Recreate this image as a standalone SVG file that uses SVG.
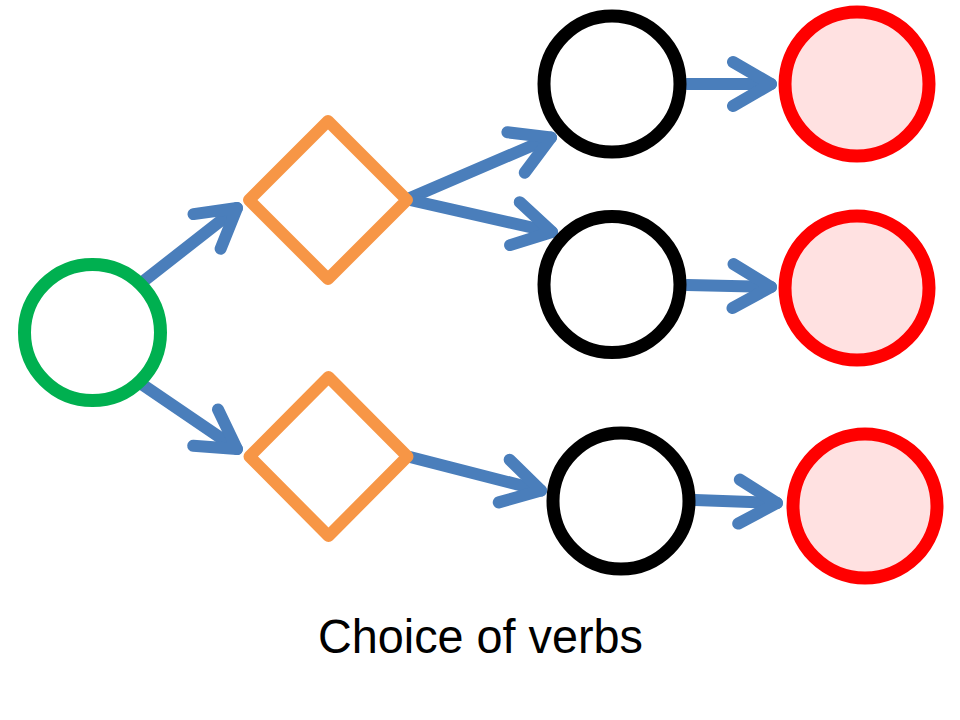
<svg xmlns="http://www.w3.org/2000/svg" width="960" height="720" viewBox="0 0 960 720">
  <defs>
    <style>
      .conn { fill: none; stroke: #4A7EBB; stroke-width: 12; stroke-linecap: round; stroke-linejoin: round; }
      .start { fill: #FFFFFF; stroke: #00B050; stroke-width: 13; }
      .choice { fill: #FFFFFF; stroke: #F79646; stroke-width: 12; stroke-linejoin: round; }
      .verb { fill: #FFFFFF; stroke: #000000; stroke-width: 13; }
      .end { fill: #FFE1E1; stroke: #FF0000; stroke-width: 13; }
      .caption { font-family: "Liberation Sans", Arial, sans-serif; font-size: 48px; fill: #000000; }
    </style>
    <marker id="chev" markerUnits="userSpaceOnUse" viewBox="-50 -30 60 60" markerWidth="60" markerHeight="60" refX="0" refY="0" orient="auto">
      <path d="M-38,-22 L0,0 L-38,22" fill="none" stroke="#4A7EBB" stroke-width="12" stroke-linecap="round" stroke-linejoin="round"/>
    </marker>
  </defs>
  <rect width="960" height="720" fill="#FFFFFF"/>

  <g id="connectors">
    <line class="conn" x1="145" y1="280" x2="237" y2="208" marker-end="url(#chev)"/>
    <line class="conn" x1="143" y1="385" x2="237" y2="449" marker-end="url(#chev)"/>
    <line class="conn" x1="410" y1="198" x2="551" y2="137.5" marker-end="url(#chev)"/>
    <line class="conn" x1="410" y1="200" x2="552" y2="232" marker-end="url(#chev)"/>
    <line class="conn" x1="687" y1="84" x2="771" y2="84" marker-end="url(#chev)"/>
    <line class="conn" x1="687" y1="285" x2="771" y2="287" marker-end="url(#chev)"/>
    <line class="conn" x1="410" y1="457" x2="541" y2="490.5" marker-end="url(#chev)"/>
    <line class="conn" x1="695" y1="500" x2="777" y2="503" marker-end="url(#chev)"/>
  </g>

  <g id="start-node">
    <circle class="start" cx="92.5" cy="332.5" r="68"/>
  </g>
  <g id="choice-top">
    <path class="choice" d="M328,121 L407,200 L328,279 L249,200 Z"/>
  </g>
  <g id="choice-bottom">
    <path class="choice" d="M328.5,377 L407.5,456.5 L328.5,536 L249.5,456.5 Z"/>
  </g>
  <g id="verb-1">
    <circle class="verb" cx="612" cy="84" r="68"/>
  </g>
  <g id="verb-2">
    <circle class="verb" cx="612" cy="284.5" r="68"/>
  </g>
  <g id="verb-3">
    <circle class="verb" cx="621" cy="501" r="68"/>
  </g>
  <g id="end-1">
    <circle class="end" cx="857" cy="84" r="72"/>
  </g>
  <g id="end-2">
    <circle class="end" cx="857" cy="288" r="72"/>
  </g>
  <g id="end-3">
    <circle class="end" cx="865" cy="506" r="72"/>
  </g>

  <g id="caption">
    <text class="caption" x="318" y="653" textLength="325" lengthAdjust="spacingAndGlyphs">Choice of verbs</text>
  </g>
</svg>
